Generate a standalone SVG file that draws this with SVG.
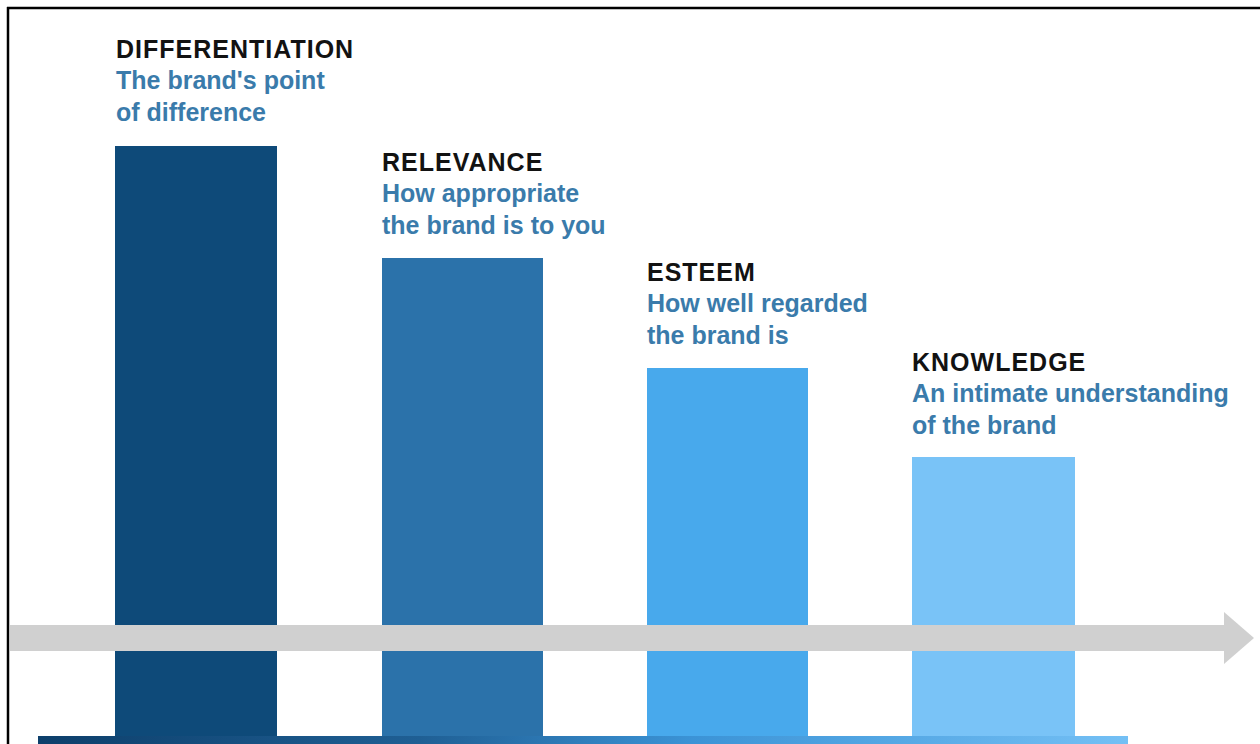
<svg xmlns="http://www.w3.org/2000/svg" width="1260" height="744" viewBox="0 0 1260 744">
  <defs>
    <linearGradient id="baseGrad" x1="0" y1="0" x2="1" y2="0">
      <stop offset="0" stop-color="#0d3f6b"/>
      <stop offset="0.35" stop-color="#1f5f94"/>
      <stop offset="0.6" stop-color="#3b93d6"/>
      <stop offset="1" stop-color="#74c0f5"/>
    </linearGradient>
    <style>
      .title { font-family: "Liberation Sans", Arial, sans-serif; font-weight: bold; font-size: 25px; fill: #121212; letter-spacing: 1px; }
      .sub { font-family: "Liberation Sans", Arial, sans-serif; font-weight: bold; font-size: 25px; fill: #3a7bab; }
      .axis { fill: #d0d0d0; }
    </style>
  </defs>
  <rect x="0" y="0" width="1260" height="744" fill="#ffffff"/>
  <!-- frame -->
  <line x1="7" y1="8" x2="1260" y2="8" stroke="#000" stroke-width="2.5"/>
  <line x1="8" y1="7" x2="8" y2="744" stroke="#000" stroke-width="2.5"/>

  <g id="differentiation">
    <rect x="115" y="146" width="162" height="598" fill="#0e4a79"/>
    <text class="title" x="116" y="58">DIFFERENTIATION</text>
    <text class="sub" x="116" y="89">The brand's point</text>
    <text class="sub" x="116" y="121">of difference</text>
  </g>
  <g id="relevance">
    <rect x="382" y="258" width="161" height="486" fill="#2b72aa"/>
    <text class="title" x="382" y="171">RELEVANCE</text>
    <text class="sub" x="382" y="202">How appropriate</text>
    <text class="sub" x="382" y="234">the brand is to you</text>
  </g>
  <g id="esteem">
    <rect x="647" y="368" width="161" height="376" fill="#48a9ec"/>
    <text class="title" x="647" y="281">ESTEEM</text>
    <text class="sub" x="647" y="312">How well regarded</text>
    <text class="sub" x="647" y="344">the brand is</text>
  </g>
  <g id="knowledge">
    <rect x="912" y="457" width="163" height="287" fill="#79c3f7"/>
    <text class="title" x="912" y="371">KNOWLEDGE</text>
    <text class="sub" x="912" y="402">An intimate understanding</text>
    <text class="sub" x="912" y="434">of the brand</text>
  </g>

  <g id="connectors">
    <rect class="axis" x="10" y="625" width="1216" height="26"/>
    <polygon class="axis" points="1224,612 1254,638 1224,664"/>
    <rect x="38" y="736" width="1090" height="8" fill="url(#baseGrad)"/>
  </g>
</svg>
